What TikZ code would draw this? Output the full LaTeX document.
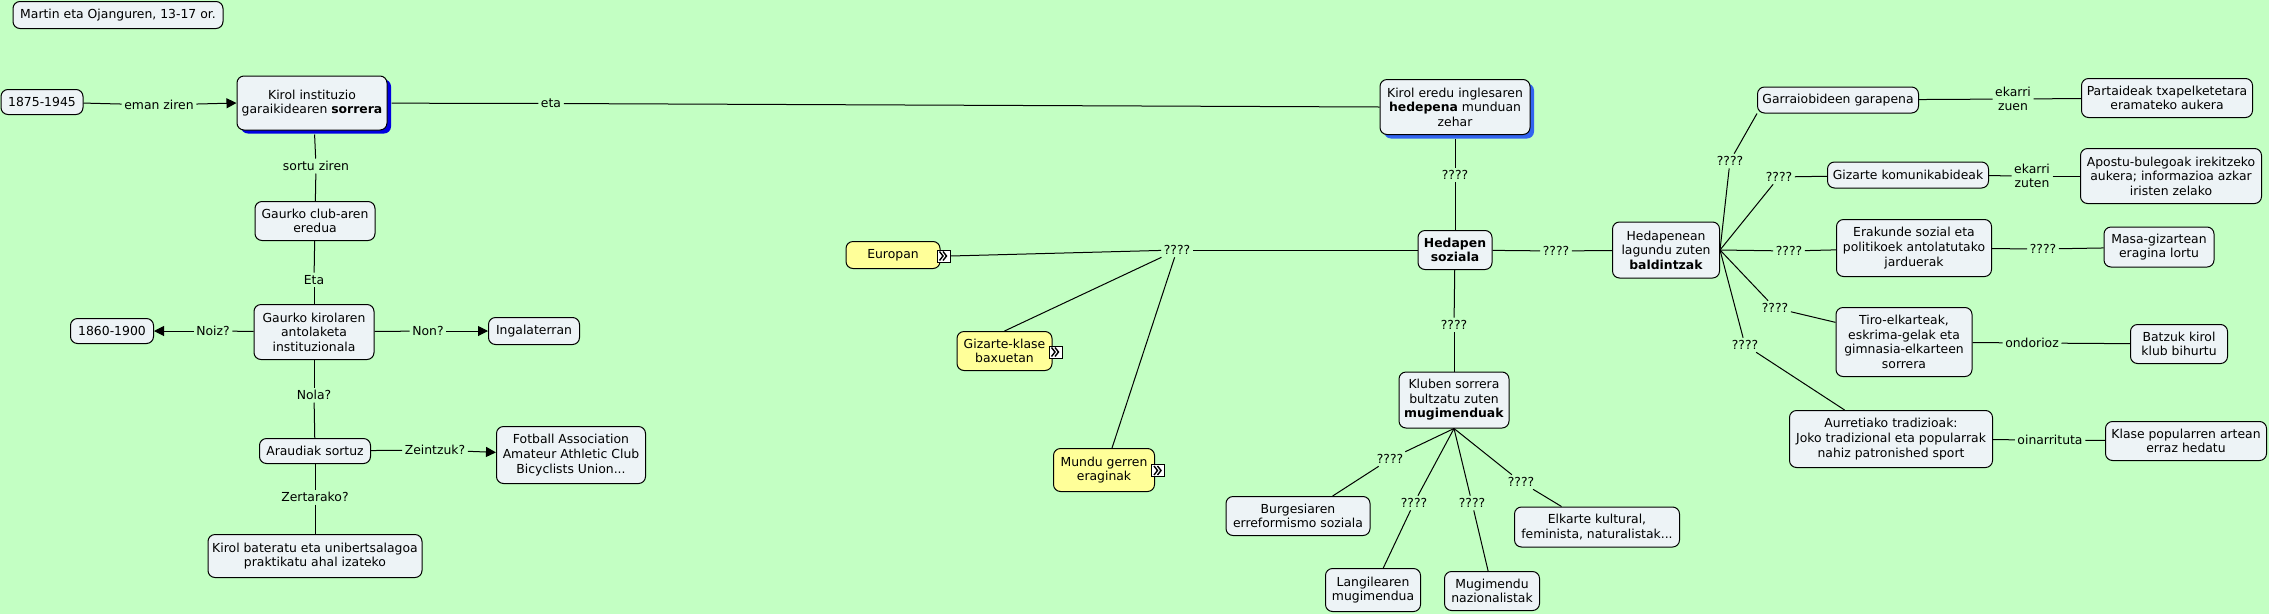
\documentclass[tikz,border=0pt]{standalone}
\usepackage{fontspec}
\setmainfont{DejaVu Sans}
\usepackage{xcolor}
\usepackage{tikz}
\usetikzlibrary{arrows.meta,shadows}
\definecolor{mapgreen}{RGB}{195,255,195}
\definecolor{boxpale}{RGB}{237,243,246}
\definecolor{boxyellow}{RGB}{255,255,153}
\definecolor{deepblue}{RGB}{0,0,225}
\definecolor{midblue}{RGB}{50,100,240}
\tikzset{
  wh/.style 2 args={minimum width=#1, minimum height=#2},
  conceptbox/.style={draw=black, fill=boxpale, rounded corners=7pt, line width=1pt, align=center, inner sep=1pt},
  yellowbox/.style={conceptbox, fill=boxyellow},
  linklabel/.style={align=center, inner sep=2.5pt},
  nestmark/.style={draw=black, fill=white, line width=1pt, minimum width=13pt, minimum height=12pt, inner sep=0pt,
    path picture={\draw[line width=1.4pt] ([xshift=-4pt,yshift=4.5pt]path picture bounding box.center) -- ++(3.5pt,-4.5pt) -- ++(-3.5pt,-4.5pt);
      \draw[line width=1.4pt] ([xshift=-0.5pt,yshift=4.5pt]path picture bounding box.center) -- ++(3.5pt,-4.5pt) -- ++(-3.5pt,-4.5pt);}},
  conn/.style={line width=1pt, draw=black},
  arr/.style={conn, -{Triangle[length=10pt,width=10pt]}}
}
\begin{document}
\begin{tikzpicture}[x=1pt, y=-1pt, font=\fontsize{12.4}{14.6}\selectfont]
  \path[use as bounding box, fill=mapgreen] (0,0) rectangle (2269,614);

  \node (source) at (118,15) [conceptbox, wh={210}{27}] {Martin eta Ojanguren, 13-17 or.};
  \node (years) at (42,102) [conceptbox, wh={82}{25}] {1875-1945};
  \node (sorrera) at (312,103) [conceptbox, wh={150}{54}, drop shadow={fill=deepblue, opacity=1, shadow xshift=4pt, shadow yshift=-3.5pt}] {Kirol instituzio\\garaikidearen \textbf{sorrera}};
  \node (club) at (315,221) [conceptbox, wh={120}{39}] {Gaurko club-aren\\eredua};
  \node (antolaketa) at (314,332) [conceptbox, wh={120}{55}] {Gaurko kirolaren\\antolaketa\\instituzionala};
  \node (period) at (112,331) [conceptbox, wh={83}{25}] {1860-1900};
  \node (ingalaterra) at (534,331) [conceptbox, wh={91}{27}] {Ingalaterran};
  \node (araudiak) at (315,451) [conceptbox, wh={111}{25}] {Araudiak sortuz};
  \node (fotball) at (571,455) [conceptbox, wh={149}{57}] {Fotball Association\\Amateur Athletic Club\\Bicyclists Union...};
  \node (bateratu) at (315,556) [conceptbox, wh={214}{43}] {Kirol bateratu eta unibertsalagoa\\praktikatu ahal izateko};

  \node (hedapena) at (1455,107) [conceptbox, wh={150}{55}, drop shadow={fill=midblue, opacity=1, shadow xshift=4pt, shadow yshift=-4pt}] {Kirol eredu inglesaren\\\textbf{hedepena} munduan\\zehar};
  \node (soziala) at (1455,250) [conceptbox, wh={74}{39}] {\textbf{Hedapen}\\\textbf{soziala}};
  \node (europan) at (893,255) [yellowbox, wh={94}{27}] {Europan};
  \node (europanmark) at (943.5,256) [nestmark] {};
  \node (gizarteklase) at (1004.5,351) [yellowbox, wh={95}{39}] {Gizarte-klase\\baxuetan};
  \node (gizartemark) at (1055.5,352) [nestmark] {};
  \node (mundu) at (1104,470) [yellowbox, wh={101}{43}] {Mundu gerren\\eraginak};
  \node (mundumark) at (1158,470.5) [nestmark] {};

  \node (kluben) at (1454,400) [conceptbox, wh={110}{56}] {Kluben sorrera\\bultzatu zuten\\\textbf{mugimenduak}};
  \node (burgesia) at (1298,516) [conceptbox, wh={144}{39}] {Burgesiaren\\erreformismo soziala};
  \node (langile) at (1373,590) [conceptbox, wh={95}{43}] {Langilearen\\mugimendua};
  \node (nazional) at (1492,591) [conceptbox, wh={95}{39}] {Mugimendu\\nazionalistak};
  \node (elkarte) at (1597,527) [conceptbox, wh={165}{40}] {Elkarte kultural,\\feminista, naturalistak...};

  \node (baldintzak) at (1666,250) [conceptbox, wh={107}{56}] {Hedapenean\\lagundu zuten\\\textbf{baldintzak}};
  \node (garraio) at (1838,100) [conceptbox, wh={161}{26}] {Garraiobideen garapena};
  \node (partaide) at (2167,98) [conceptbox, wh={171}{39}] {Partaideak txapelketetara\\eramateko aukera};
  \node (komunika) at (1908,175) [conceptbox, wh={161}{26}] {Gizarte komunikabideak};
  \node (apostu) at (2171,176) [conceptbox, wh={181}{55}] {Apostu-bulegoak irekitzeko\\aukera; informazioa azkar\\iristen zelako};
  \node (erakunde) at (1914,248) [conceptbox, wh={155}{57}] {Erakunde sozial eta\\politikoek antolatutako\\jarduerak};
  \node (masa) at (2159,247) [conceptbox, wh={110}{40}] {Masa-gizartean\\eragina lortu};
  \node (tiro) at (1904,342) [conceptbox, wh={136}{69}] {Tiro-elkarteak,\\eskrima-gelak eta\\gimnasia-elkarteen\\sorrera};
  \node (batzuk) at (2179,344) [conceptbox, wh={97}{39}] {Batzuk kirol\\klub bihurtu};
  \node (tradizio) at (1891,439) [conceptbox, wh={203}{57}] {Aurretiako tradizioak:\\Joko tradizional eta popularrak\\nahiz patronished sport};
  \node (klase) at (2186,441) [conceptbox, wh={161}{39}] {Klase popularren artean\\erraz hedatu};

  \node (l1) at (159,105) [linklabel] {eman ziren};
  \node (l2) at (551,103.5) [linklabel] {eta};
  \node (l3) at (316,166) [linklabel] {sortu ziren};
  \node (l4) at (314,280) [linklabel] {Eta};
  \node (l5) at (213,331) [linklabel] {Noiz?};
  \node (l6) at (428,331) [linklabel] {Non?};
  \node (l7) at (314,395) [linklabel] {Nola?};
  \node (l8) at (435,450) [linklabel] {Zeintzuk?};
  \node (l9) at (315,497) [linklabel] {Zertarako?};
  \node (q1) at (1455,175) [linklabel] {????};
  \node (hub) at (1177,250) [linklabel] {????};
  \node (q2) at (1556,251) [linklabel] {????};
  \node (q3) at (1454,325) [linklabel] {????};
  \node (q4) at (1390,459) [linklabel] {????};
  \node (q5) at (1414,503) [linklabel] {????};
  \node (q6) at (1472,503) [linklabel] {????};
  \node (q7) at (1521,482) [linklabel] {????};
  \node (q8) at (1730,161) [linklabel] {????};
  \node (q9) at (1779,177) [linklabel] {????};
  \node (q10) at (1789,251) [linklabel] {????};
  \node (q11) at (1775,308) [linklabel] {????};
  \node (q12) at (1745,345) [linklabel] {????};
  \node (q13) at (2043,249) [linklabel] {????};
  \node (l10) at (2013,99) [linklabel] {ekarri\\zuen};
  \node (l11) at (2032,176) [linklabel] {ekarri\\zuten};
  \node (l12) at (2032,343) [linklabel] {ondorioz};
  \node (l13) at (2050,440) [linklabel] {oinarrituta};

  \draw[conn] (years) -- (l1);
  \draw[arr] (l1) -- (sorrera.west);
  \draw[conn, shorten <=4pt] (sorrera) -- (l2);
  \draw[conn] (l2) -- (hedapena.west);
  \draw[conn, shorten <=4pt] (sorrera.275) -- (l3);
  \draw[conn] (l3) -- (club);
  \draw[conn] (club) -- (l4);
  \draw[conn] (l4) -- (antolaketa);
  \draw[conn] (antolaketa) -- (l5);
  \draw[arr] (l5) -- (period);
  \draw[conn] (antolaketa) -- (l6);
  \draw[arr] (l6) -- (ingalaterra);
  \draw[conn] (antolaketa) -- (l7);
  \draw[conn] (l7) -- (araudiak);
  \draw[conn] (araudiak) -- (l8);
  \draw[arr] (l8) -- (fotball.178);
  \draw[conn] (araudiak) -- (l9);
  \draw[conn] (l9) -- (bateratu);

  \draw[conn, shorten <=4pt] (hedapena) -- (q1);
  \draw[conn] (q1) -- (soziala);
  \draw[conn] (soziala) -- (hub);
  \draw[conn] (hub) -- (europanmark.east);
  \draw[conn] (hub) -- (gizarteklase.north);
  \draw[conn] (hub) -- (mundu.70);
  \draw[conn] (soziala) -- (q2);
  \draw[conn] (q2) -- (baldintzak);
  \draw[conn] (soziala) -- (q3);
  \draw[conn] (q3) -- (kluben);
  \draw[conn] (kluben.south) -- (q4);
  \draw[conn] (q4) -- (burgesia.30);
  \draw[conn] (kluben.south) -- (q5);
  \draw[conn] (q5) -- (langile.65);
  \draw[conn] (kluben.south) -- (q6);
  \draw[conn] (q6) -- (nazional.101);
  \draw[conn] (kluben.south) -- (q7);
  \draw[conn] (q7) -- (elkarte.150);

  \draw[conn] (baldintzak.east) -- (q8);
  \draw[conn] (q8) -- (garraio.south west);
  \draw[conn] (baldintzak.east) -- (q9);
  \draw[conn] (q9) -- (komunika);
  \draw[conn] (baldintzak.east) -- (q10);
  \draw[conn] (q10) -- (erakunde);
  \draw[conn] (baldintzak.east) -- (q11);
  \draw[conn] (q11) -- (tiro.164);
  \draw[conn] (baldintzak.east) -- (q12);
  \draw[conn] (q12) -- (tradizio.148);
  \draw[conn] (garraio) -- (l10);
  \draw[conn] (l10) -- (partaide);
  \draw[conn] (komunika) -- (l11);
  \draw[conn] (l11) -- (apostu);
  \draw[conn] (erakunde) -- (q13);
  \draw[conn] (q13) -- (masa);
  \draw[conn] (tiro) -- (l12);
  \draw[conn] (l12) -- (batzuk);
  \draw[conn] (tradizio) -- (l13);
  \draw[conn] (l13) -- (klase);
\end{tikzpicture}
\end{document}
